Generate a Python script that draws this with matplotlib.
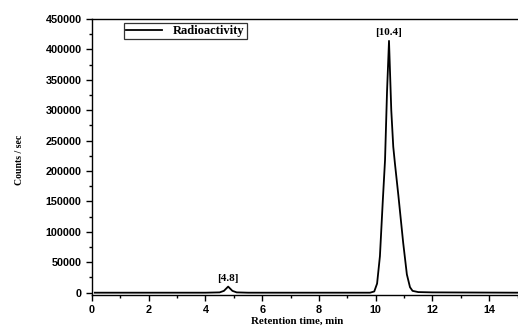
import numpy as np
import matplotlib
matplotlib.use("Agg")
import matplotlib.pyplot as plt
from matplotlib.ticker import MultipleLocator

# === data ===
time_min = [0.1, 4.0, 4.5, 4.65, 4.8, 4.95, 5.1, 5.5, 9.8, 9.95, 10.05, 10.15,
            10.25, 10.33, 10.40, 10.47, 10.55, 10.62, 10.68, 10.8, 10.97, 11.1,
            11.21, 11.3, 11.5, 12.0, 15.0]
counts = [0, 0, 500, 3000, 10000, 3000, 500, 0, 0, 2000, 15000, 60000,
          150000, 218000, 330000, 414000, 300000, 240000, 212000, 160000, 82000, 30000,
          9000, 3000, 1000, 500, 0]
peak_labels = ["[4.8]", "[10.4]"]
peak_pos = [(4.8, 10000), (10.47, 414000)]

serif = ["Liberation Serif", "DejaVu Serif"]
sans = ["Liberation Sans", "DejaVu Sans"]

fig = plt.figure(figsize=(5.18, 3.29), dpi=100)
ax = fig.add_axes([92 / 518, 34 / 329, 436 / 518, 276 / 329])

ax.plot(time_min, counts, color="black", lw=1.3, label="Radioactivity")

ax.set_xlim(0, 15.37)
ax.set_ylim(-3800, 450000)
ax.xaxis.set_major_locator(MultipleLocator(2))
ax.xaxis.set_minor_locator(MultipleLocator(1))
ax.yaxis.set_major_locator(MultipleLocator(50000))
ax.yaxis.set_minor_locator(MultipleLocator(25000))
ax.tick_params(which="both", direction="out", width=1.0, top=False, right=False)
ax.tick_params(which="major", length=4, pad=3.5)
ax.tick_params(which="minor", length=2.5)
for lab in ax.get_xticklabels() + ax.get_yticklabels():
    lab.set_family(sans)
    lab.set_fontweight("bold")
    lab.set_fontsize(7.8)
ax.spines["right"].set_visible(False)
for s in ("left", "bottom", "top"):
    ax.spines[s].set_linewidth(1.0)

for txt, (x, y) in zip(peak_labels, peak_pos):
    ax.annotate(txt, (x, y), xytext=(0, 2.5), textcoords="offset points",
                ha="center", va="bottom", family=serif, fontweight="bold", fontsize=8)

fig.text(20 / 518, 1 - 160 / 329, "Counts / sec", rotation=90, ha="center", va="center",
         family=serif, fontweight="bold", fontsize=7)
fig.text(297 / 518, 1 - 321 / 329, "Retention time, min", ha="center", va="center",
         family=serif, fontweight="bold", fontsize=7.8)

leg = ax.legend(loc="upper left", bbox_to_anchor=(0.073, 0.985), frameon=True,
                fancybox=False, edgecolor="black", handlelength=2.9,
                borderpad=0.15, handletextpad=0.9, borderaxespad=0,
                prop={"family": serif, "weight": "bold", "size": 9})
leg.get_frame().set_linewidth(0.9)

fig.savefig("out.png", dpi=100)
